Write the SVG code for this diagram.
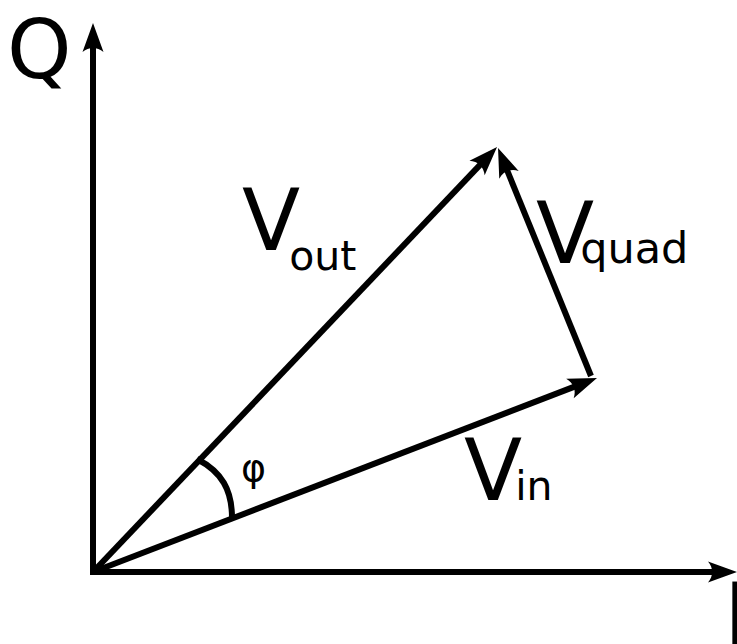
<svg xmlns="http://www.w3.org/2000/svg" width="737" height="644" viewBox="0 0 737 644">
<style>
.v{stroke:#000;stroke-width:6;fill:none}
.t{font-family:"DejaVu Sans",sans-serif;fill:#000}
</style>
<defs>
<marker id="ah" markerUnits="userSpaceOnUse" viewBox="0 -12 32 24" markerWidth="32" markerHeight="24" refX="15" refY="0" orient="auto">
<path d="M30,0 L1,-10.5 C6.5,-4 6.5,4 1,10.5 Z" fill="#000"/>
</marker>
</defs>
<rect width="737" height="644" fill="#fff"/>
<g id="connectors">
<path class="v" d="M93,575 L93,38" marker-end="url(#ah)"/>
<path class="v" d="M90,572 L722,572" marker-end="url(#ah)"/>
<path class="v" d="M93,572 L486.7,157.9" marker-end="url(#ah)"/>
<path class="v" d="M93,572 L583,383.4" marker-end="url(#ah)"/>
<path class="v" d="M591,376 L503.7,161.9" marker-end="url(#ah)"/>
<path class="v" d="M197,459 C222,472 232,490 232,518"/>
</g>
<g id="labels">
<text class="t" x="7" y="78" font-size="82">Q</text>
<text class="t" x="724" y="644" font-size="85">I</text>
<text class="t" x="242" y="250" font-size="85">V<tspan font-size="41" dx="-11" dy="20">out</tspan></text>
<text class="t" x="464" y="500" font-size="85">V<tspan font-size="41" dx="-7">in</tspan></text>
<text class="t" x="536" y="263" font-size="85">V<tspan font-size="43" dx="-14">quad</tspan></text>
<text class="t" x="241" y="481" font-size="38">φ</text>
</g>
</svg>
